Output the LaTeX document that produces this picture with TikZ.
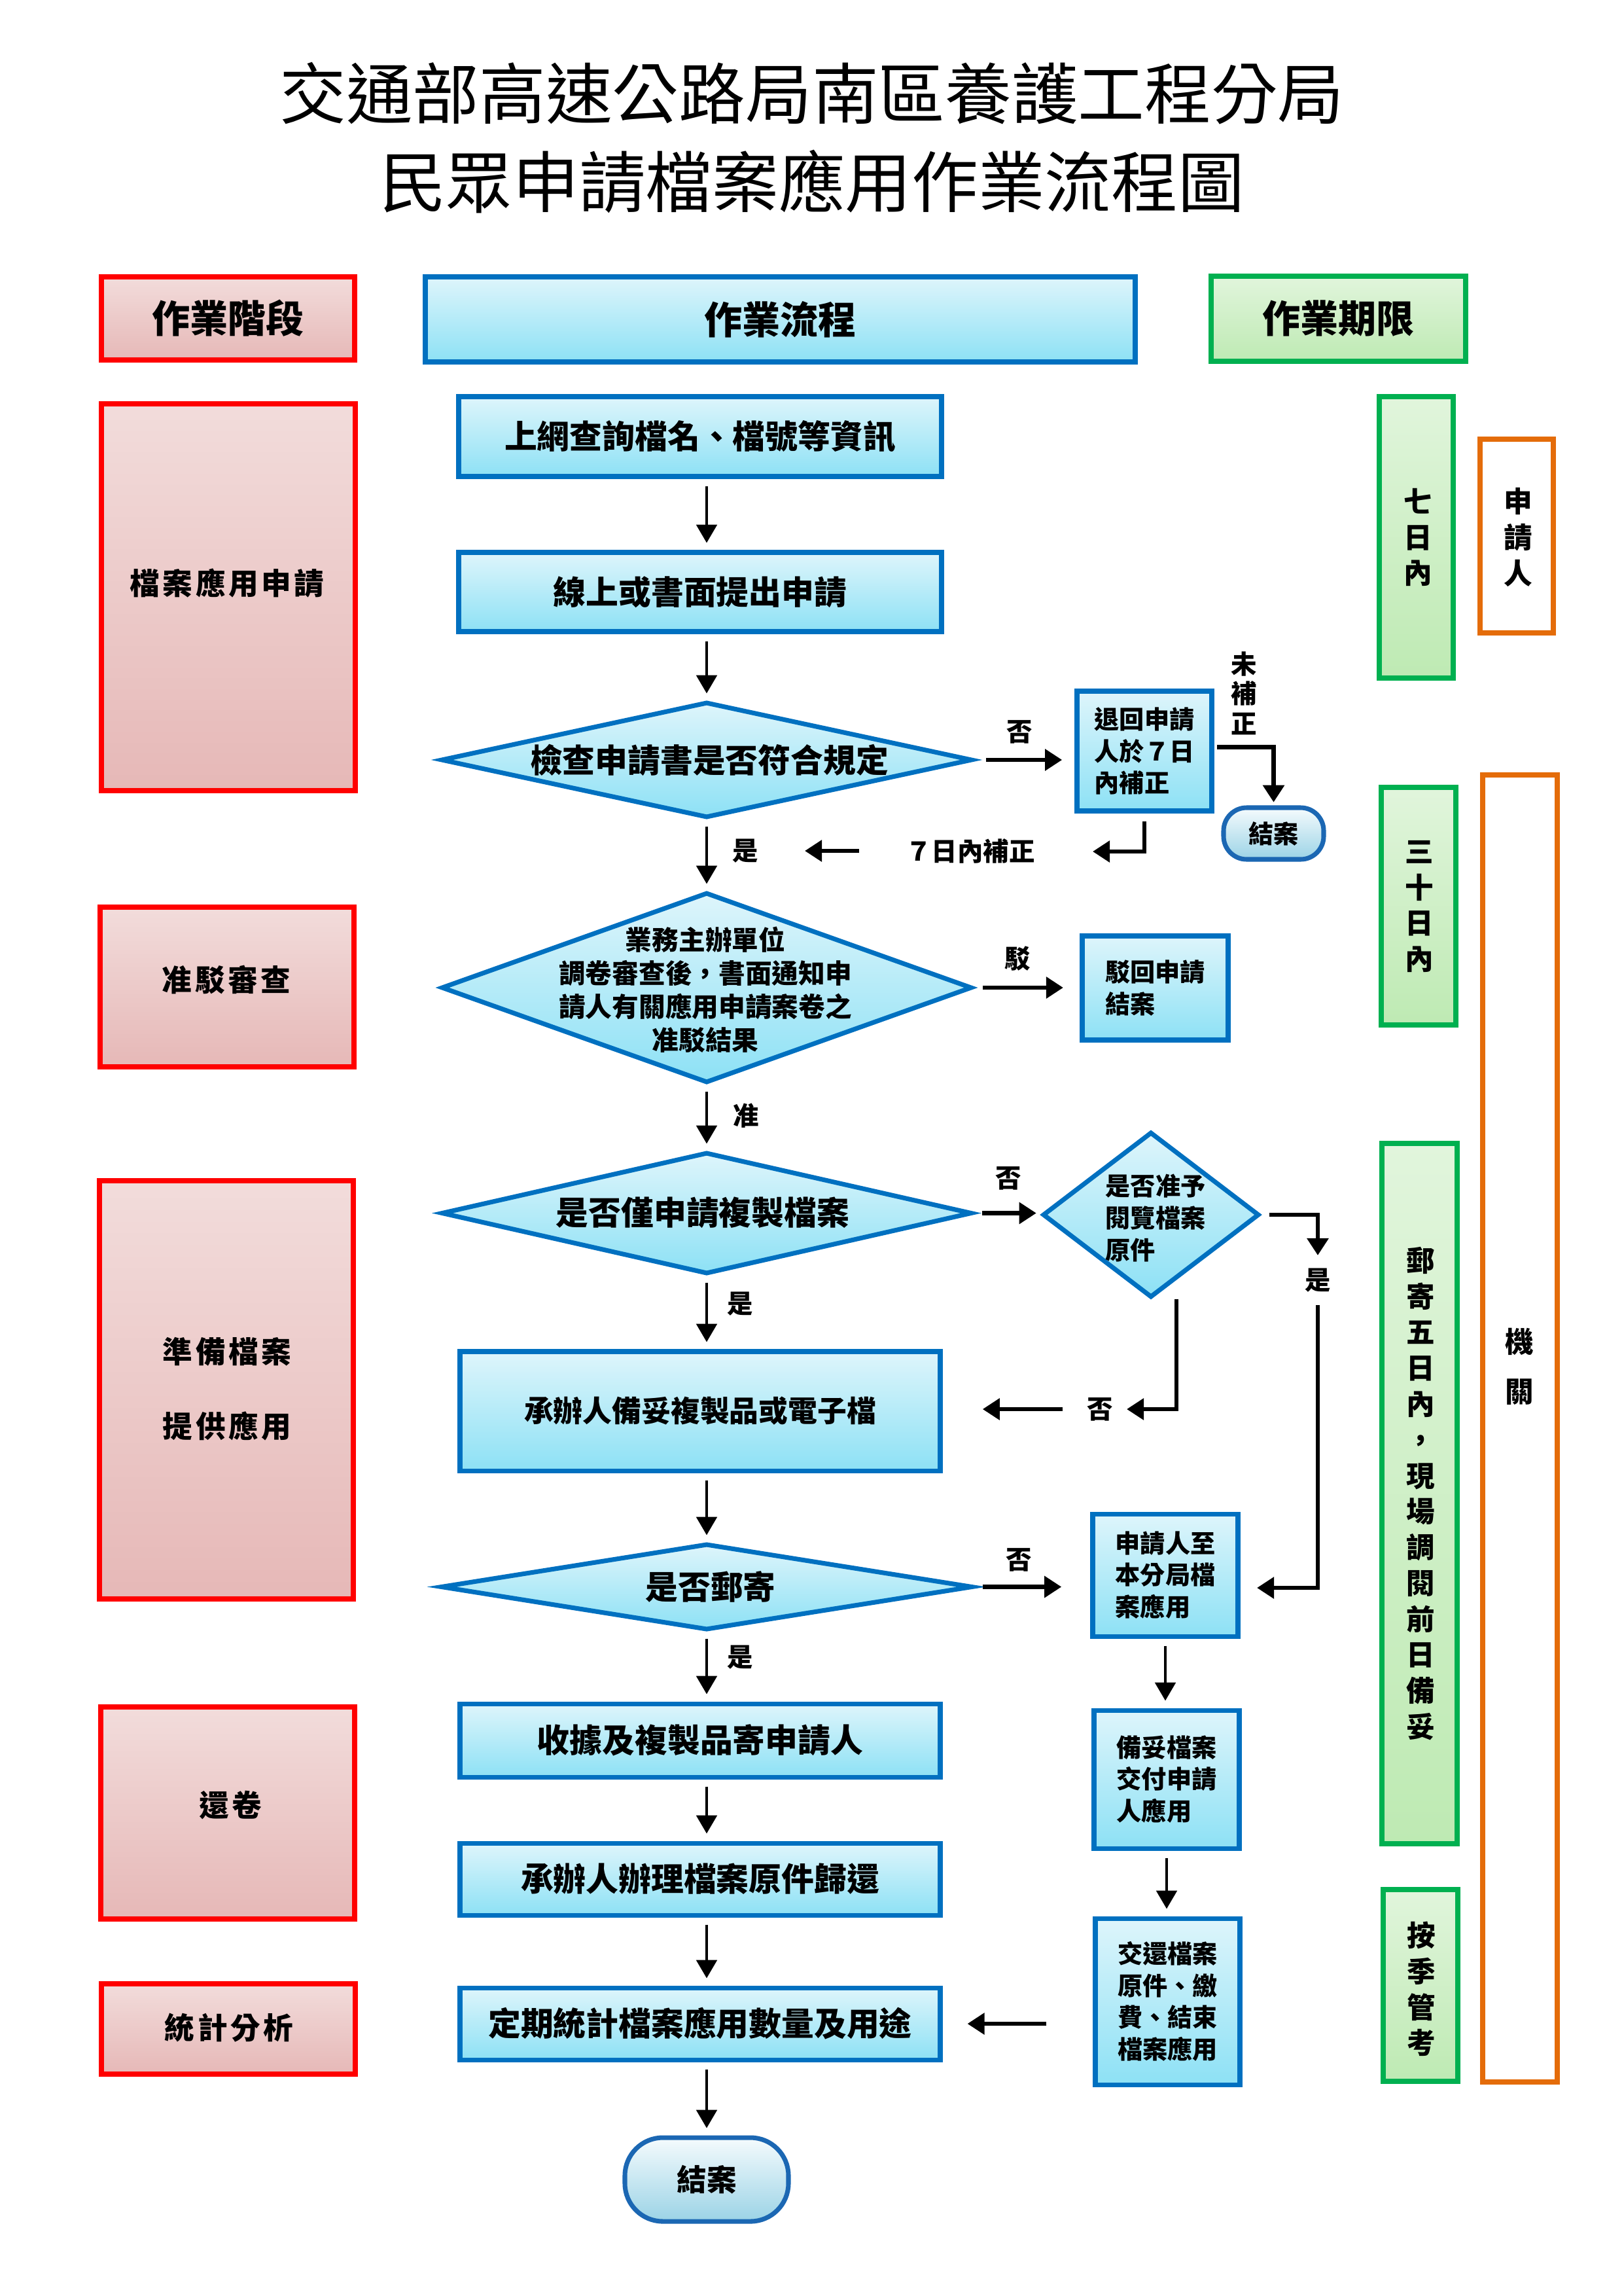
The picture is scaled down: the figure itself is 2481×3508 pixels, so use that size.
\documentclass[tikz,border=0pt]{standalone}
\usepackage{fontspec}
\setmainfont{Noto Sans CJK TC}
\usetikzlibrary{arrows.meta,shapes.geometric,calc}

\definecolor{rB}{HTML}{FF0000}
\definecolor{rT}{HTML}{F2DCDB}
\definecolor{rBo}{HTML}{E6B8B7}
\definecolor{bB}{HTML}{0070C0}
\definecolor{bT}{HTML}{DEF5FB}
\definecolor{bBo}{HTML}{8DE1F5}
\definecolor{gB}{HTML}{00B050}
\definecolor{gT}{HTML}{E1F5DC}
\definecolor{gBo}{HTML}{BEEAB3}
\definecolor{oB}{HTML}{E46C0A}
\definecolor{tB}{HTML}{1B67B3}
\definecolor{tT}{HTML}{F5FBFD}
\definecolor{tBo}{HTML}{9BD3E6}

\newcommand\pxunit{0.0084666cm}
\newcommand\mkbox[6]{\node[#1,minimum width=#4*\pxunit,minimum height=#5*\pxunit] (#2) at (#3) {#6};}

\tikzset{
  boxbase/.style={inner sep=0pt, outer sep=0pt, line width=1.7pt},
  redbox/.style={boxbase, draw=rB, line width=1.8pt, top color=rT, bottom color=rBo},
  bluebox/.style={boxbase, draw=bB, top color=bT, bottom color=bBo, align=center,
    font=\bfseries\fontsize{12}{14.4}\selectfont},
  greenbox/.style={boxbase, draw=gB, line width=1.8pt, top color=gT, bottom color=gBo},
  orangebox/.style={boxbase, draw=oB, line width=1.8pt, fill=white},
  dia/.style={boxbase, diamond, draw=bB, top color=bT, bottom color=bBo},
  term/.style={boxbase, draw=tB, top color=tT, bottom color=tBo, rounded corners=14pt,
    font=\bfseries\fontsize{11}{13}\selectfont},
  hdr/.style={font=\bfseries\fontsize{14}{16}\selectfont},
  smallt/.style={font=\bfseries\fontsize{9.2}{11.7}\selectfont, align=left},
  mtxt/.style={inner sep=0pt, font=\bfseries\fontsize{12}{14.4}\selectfont},
  dtxt/.style={inner sep=0pt, align=center, font=\bfseries\fontsize{9.8}{12.3}\selectfont},
  lefttxt/.style={inner sep=0pt, font=\bfseries\fontsize{11}{13}\selectfont\addfontfeature{LetterSpace=10}},
  vtxt/.style={inner sep=0pt, align=center, font=\bfseries\fontsize{10.5}{13.2}\selectfont},
  lbl/.style={inner sep=0pt, font=\bfseries\fontsize{9.5}{11}\selectfont},
  ttl/.style={inner sep=0pt, font=\fontsize{24.5}{29}\selectfont},
  va/.style={line width=1.15pt, -{Triangle[length=6.7pt,width=7.5pt]}, shorten <=3.5pt, shorten >=3.5pt},
  ha/.style={line width=1.6pt, -{Triangle[length=6.3pt,width=7.7pt]}},
  hl/.style={line width=1.6pt}
}

\begin{document}
\begin{tikzpicture}[x=0.0084666cm, y=-0.0084666cm]
\useasboundingbox (0,0) rectangle (2481,3508);
\path[fill=white] (0,0) rectangle (2481,3508);

% title
\node[ttl] (tla) at (1241,143) {交通部高速公路局南區養護工程分局};
\node[ttl] (tlb) at (1241,278) {民眾申請檔案應用作業流程圖};

% headers
\mkbox{redbox,hdr}{hA}{348.5,486.5}{387}{127}{作業階段}
\mkbox{bluebox,hdr}{hB}{1192.5,488}{1085}{130}{作業流程}
\mkbox{greenbox,hdr}{hC}{2045.5,487}{389}{130}{作業期限}

% left column
\mkbox{redbox}{L1}{349,912.5}{388}{591}{}
\node[lefttxt] (L1t) at (347,891) {檔案應用申請};
\mkbox{redbox}{L2}{347,1508}{388}{244}{}
\node[lefttxt] (L2t) at (346,1497) {准駁審查};
\mkbox{redbox}{L3}{346,2123.5}{388}{639}{}
\node[lefttxt] (L3t) at (347,2065) {準備檔案};
\node[lefttxt] (L3u) at (347,2179) {提供應用};
\mkbox{redbox}{L4}{348,2770}{388}{324}{}
\node[lefttxt] (L4t) at (352,2758) {還卷};
\mkbox{redbox}{L5}{349,3100}{388}{138}{}
\node[lefttxt] (L5t) at (350,3098) {統計分析};

% main column
\mkbox{bluebox}{b1}{1070,667}{738}{122}{上網查詢檔名、檔號等資訊}
\mkbox{bluebox}{b2}{1070,904.5}{738}{121}{線上或書面提出申請}
\mkbox{dia}{d1}{1080,1161}{809}{174}{}
\node[mtxt] (d1t) at (1084,1161) {檢查申請書是否符合規定};
\mkbox{dia}{d2}{1080,1509}{808}{288}{}
\node[dtxt] (d2t) at (1078,1512) {業務主辦單位\\調卷審查後，書面通知申\\請人有關應用申請案卷之\\准駁結果};
\mkbox{dia}{d3}{1080,1853.5}{808}{183}{}
\node[mtxt] (d3t) at (1074,1853) {是否僅申請複製檔案};
\mkbox{bluebox,font=\bfseries\fontsize{10.8}{13}\selectfont}{b3}{1070,2156}{734}{182}{承辦人備妥複製品或電子檔}
\mkbox{dia}{d5}{1080,2424.5}{810}{129}{}
\node[mtxt] (d5t) at (1086,2424) {是否郵寄};
\mkbox{bluebox}{b4}{1070,2659}{734}{112}{收據及複製品寄申請人}
\mkbox{bluebox}{b5}{1070,2871}{734}{110}{承辦人辦理檔案原件歸還}
\mkbox{bluebox}{b6}{1070,3092}{734}{110}{定期統計檔案應用數量及用途}
\mkbox{term}{te}{1080,3330}{250}{128}{結案}

% right flow
\mkbox{bluebox,smallt}{ret}{1749,1147.5}{206}{183}{退回申請\\人於７日\\內補正}
\mkbox{term,rounded corners=8.5pt,font=\bfseries\fontsize{9.2}{11}\selectfont}{t0}{1946.5,1273.5}{153}{79}{結案}
\mkbox{bluebox,smallt}{bo}{1765.5,1509.5}{223}{159}{駁回申請\\結案}
\mkbox{dia}{d4}{1759,1856}{328}{250}{}
\node[inner sep=0pt,smallt] (d4t) at (1766,1861) {是否准予\\閱覽檔案\\原件};
\mkbox{bluebox,smallt}{bp}{1781,2406.5}{222}{187}{申請人至\\本分局檔\\案應用}
\mkbox{bluebox,smallt}{bq}{1783,2718.5}{222}{211}{備妥檔案\\交付申請\\人應用}
\mkbox{bluebox,smallt}{br}{1784.5,3058}{221}{254}{交還檔案\\原件、繳\\費、結束\\檔案應用}

% deadline column
\mkbox{greenbox}{g1}{2164.5,821}{113}{430}{}
\node[vtxt] (g1t) at (2167,821) {七\\日\\內};
\mkbox{orangebox}{o1}{2318,819}{112}{296}{}
\node[vtxt] (o1t) at (2320,821) {申\\請\\人};
\mkbox{greenbox}{g2}{2168,1384.5}{114}{363}{}
\node[vtxt] (g2t) at (2169,1385) {三\\十\\日\\內};
\mkbox{orangebox}{o2}{2323,2182.5}{114}{1997}{}
\node[vtxt] (o2t) at (2322,2088) {機\\[5pt]關};
\mkbox{greenbox}{g3}{2169.5,2282}{115}{1070}{}
\node[vtxt] (g3t) at (2171,2282) {郵\\寄\\五\\日\\內\\，\\現\\場\\調\\閱\\前\\日\\備\\妥};
\mkbox{greenbox}{g4}{2171,3033.5}{114}{293}{}
\node[vtxt] (g4t) at (2172,3039) {按\\季\\管\\考};

% main vertical connectors
\draw[va] (b1.south -| d1.center) -- (b2.north -| d1.center);
\draw[va] (b2.south -| d1.center) -- (d1.north);
\draw[va] (d1.south) -- (d2.north);
\draw[va] (d2.south) -- (d3.north);
\draw[va] (d3.south) -- (b3.north -| d3.south);
\draw[va] (b3.south -| d5.north) -- (d5.north);
\draw[va] (d5.south) -- (b4.north -| d5.south);
\draw[va] (b4.south -| d5.south) -- (b5.north -| d5.south);
\draw[va] (b5.south -| d5.south) -- (b6.north -| d5.south);
\draw[va] (b6.south -| te.north) -- (te.north);
\node[lbl] (y1) at (1139,1300) {是};
\node[lbl] (y2) at (1140,1705) {准};
\node[lbl] (y3) at (1131,1992) {是};
\node[lbl] (y4) at (1131,2532) {是};

% check branch
\draw[ha, shorten <=5.5pt, shorten >=5.5pt] (d1.east) -- (d1.east -| ret.west);
\node[lbl] (n1) at (1558,1118) {否};
\draw[ha, shorten <=2pt, shorten >=2pt] ([yshift=1.5pt]ret.east) -| (t0.north);
\node[lbl, align=center] (n2) at (1901,1059) {未\\補\\正};
\coordinate (c7) at (1670,1301);
\draw[ha, shorten <=3.9pt] (ret.south) |- (c7);
\node[lbl] (n3) at (1483,1300) {７日內補正};
\coordinate (c8) at (1313,1300);
\coordinate (c9) at (1230,1300);
\draw[ha] (c8) -- (c9);

% review branch
\draw[ha, shorten <=4.3pt, shorten >=7pt] (d2.east) -- (d2.east -| bo.west);
\node[lbl] (n4) at (1555,1465) {駁};

% copy / view branch
\draw[ha, shorten <=4pt, shorten >=2.7pt] (d3.east) -- (d3.east -| d4.west);
\node[lbl] (n5) at (1541,1800) {否};
\coordinate (c1) at (2014,1918);
\draw[ha, shorten <=4pt] (d4.east) -| (c1);
\node[lbl] (n6) at (2014,1956) {是};
\coordinate (c2) at (2014,1994);
\coordinate (c3) at (2014,2426);
\draw[ha, shorten >=7pt] (c2) -- (c3) -- (c3 -| bp.east);
\coordinate (c5) at (1722,2153);
\draw[ha] ($(d4.south)+(39,4)$) |- (c5);
\node[lbl] (n7) at (1681,2153) {否};
\coordinate (c6) at (1624,2153);
\draw[ha, shorten >=15.6pt] (c6) -- (c6 -| b3.east);

% mail branch
\draw[ha, shorten <=4pt, shorten >=11.5pt] (d5.east) -- (d5.east -| bp.west);
\node[lbl] (n8) at (1557,2383) {否};
\draw[va] (bp.south) -- (bp.south |- bq.north);
\draw[va] (bq.south) -- (bq.south |- br.north);
\draw[ha, shorten <=18pt, shorten >=10pt] (b6.east -| br.west) -- (b6.east);

\end{tikzpicture}
\end{document}
